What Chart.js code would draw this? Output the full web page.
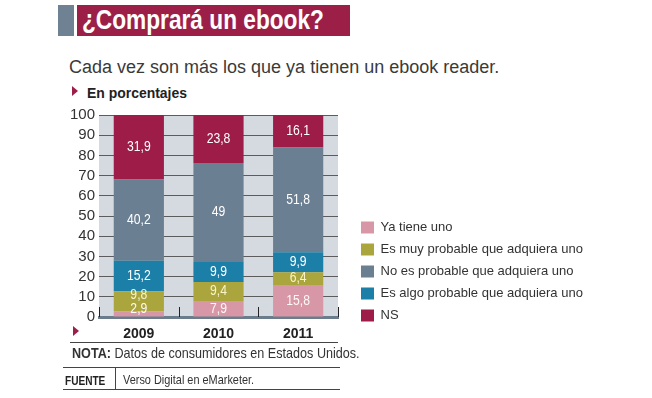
<!DOCTYPE html>
<html>
<head>
<meta charset="utf-8">
<script src="https://cdn.jsdelivr.net/npm/chart.js@4"></script>
<style>
  body { margin: 0; background: #fff; width: 652px; height: 398px; position: relative; overflow: hidden;
         font-family: "Liberation Sans", Arial, sans-serif; color: #333; }
  .abs { position: absolute; }
  .cond { transform: scaleX(0.84); transform-origin: 0 0; white-space: nowrap; }
  #titleGray { left: 58px; top: 5px; width: 16px; height: 31px; background: #6e8293; }
  #titleBar { left: 77px; top: 5px; width: 273px; height: 31px; background: #9c1f48; }
  #title { left: 82px; top: 5px; color: #fff; font-weight: bold; font-size: 27px; line-height: 31px; }
  #subtitle { left: 69px; top: 57px; font-size: 18px; white-space: nowrap; color: #3a3a3a; }
  .tri { width: 0; height: 0; border-top: 5px solid transparent; border-bottom: 5px solid transparent; border-left: 6px solid #9c1f48; }
  #unit { left: 87px; top: 84px; font-weight: bold; font-size: 15px; color: #222; transform: scaleX(0.93); }
  #chart { left: 55px; top: 100px; }
  .hline { height: 1px; background: #444; }
  #nota { left: 72px; top: 344px; font-size: 15px; }
  #fuente { left: 65px; top: 374px; font-size: 12px; font-weight: bold; color: #222; }
  #fuenteTxt { left: 123px; top: 372px; font-size: 13px; }
  #vdiv { left: 115px; top: 367px; width: 1px; height: 22px; background: #444; }
</style>
</head>
<body>
<div class="abs" id="titleGray"></div>
<div class="abs" id="titleBar"></div>
<div class="abs cond" id="title">¿Comprará un ebook?</div>
<div class="abs" id="subtitle">Cada vez son más los que ya tienen un ebook reader.</div>
<div class="abs tri" style="left:72px; top:86px;"></div>
<div class="abs cond" id="unit">En porcentajes</div>
<canvas class="abs" id="chart" width="560" height="250"></canvas>
<div class="abs tri" style="left:73px; top:326px;"></div>
<div class="abs hline" style="left:70px; top:342px; width:268px;"></div>
<div class="abs cond" id="nota"><b>NOTA:</b> Datos de consumidores en Estados Unidos.</div>
<div class="abs hline" style="left:63px; top:367px; width:277px;"></div>
<div class="abs cond" id="fuente">FUENTE</div>
<div class="abs" id="vdiv"></div>
<div class="abs cond" id="fuenteTxt">Verso Digital en eMarketer.</div>
<div class="abs hline" style="left:63px; top:389px; width:277px;"></div>

<script>
// data (percentages), bottom to top in each bar
var years = ["2009", "2010", "2011"];
var yaTiene = [2.9, 7.9, 15.8];
var muyProbable = [9.8, 9.4, 6.4];
var algoProbable = [15.2, 9.9, 9.9];
var noProbable = [40.2, 49, 51.8];
var ns = [31.9, 23.8, 16.1];
var yTicks = [0, 10, 20, 30, 40, 50, 60, 70, 80, 90, 100];

var fam = '"Liberation Sans", Arial, sans-serif';

// legend order differs from stacking order
var legendOrder = [0, 1, 3, 2, 4];

function ds(label, data, color, txtColor) {
    return {
        label: label,
        data: data,
        backgroundColor: color,
        borderWidth: 0,
        categoryPercentage: 0.63,
        barPercentage: 1,
        txtColor: txtColor
    };
}

// plot background
var plotBg = {
    id: "plotBg",
    beforeDraw: function(chart) {
        var a = chart.chartArea;
        var ctx = chart.ctx;
        ctx.save();
        ctx.fillStyle = "#d5dae1";
        ctx.fillRect(a.left, a.top, a.right - a.left, a.bottom - a.top);
        ctx.restore();
    }
};

// move legend next to the bottom of the plot, like the original
var legendShift = {
    id: "legendShift",
    afterLayout: function(chart) {
        var l = chart.legend;
        l.left += 14; l.right += 220;
        l.top -= 19; l.bottom -= 19;
        l.width = l.right - l.left;
    }
};

// value labels + small category ticks sticking up from the baseline
var barLabels = {
    id: "barLabels",
    afterDatasetsDraw: function(chart) {
        var ctx = chart.ctx;
        var x = chart.scales.x;
        var base = chart.chartArea.bottom;
        ctx.save();
        ctx.strokeStyle = "#222";
        ctx.lineWidth = 1;
        for (var i = 0; i <= years.length; i++) {
            var px = Math.round(x.getPixelForValue(i - 0.5)) + 0.5;
            ctx.beginPath();
            ctx.moveTo(px, base);
            ctx.lineTo(px, base - 10);
            ctx.stroke();
        }
        ctx.font = "14px " + fam;
        ctx.textAlign = "center";
        ctx.textBaseline = "middle";
        var lastY = [];
        chart.data.datasets.forEach(function(d, di) {
            var meta = chart.getDatasetMeta(di);
            meta.data.forEach(function(bar, j) {
                var cy = (bar.y + bar.base) / 2;
                cy = Math.min(cy, base - 8);
                if (lastY[j] !== undefined) cy = Math.min(cy, lastY[j] - 14);
                lastY[j] = cy;
                ctx.save();
                ctx.translate(bar.x, cy);
                ctx.scale(0.87, 1);
                ctx.fillStyle = d.txtColor;
                ctx.fillText(String(d.data[j]).replace(".", ","), 0, 0);
                ctx.restore();
            });
        });
        ctx.restore();
    }
};

new Chart(document.getElementById("chart"), {
    type: "bar",
    data: {
        labels: years,
        datasets: [
            ds("Ya tiene uno", yaTiene, "#d897a6", "#fff8f4"),
            ds("Es muy probable que adquiera uno", muyProbable, "#aaa63d", "#f8f4c8"),
            ds("Es algo probable que adquiera uno", algoProbable, "#1b7fa8", "#ffffff"),
            ds("No es probable que adquiera uno", noProbable, "#6b7f92", "#ffffff"),
            ds("NS", ns, "#9e1c48", "#ffffff")
        ]
    },
    options: {
        responsive: false,
        animation: false,
        devicePixelRatio: 1,
        layout: { padding: { top: 15, right: 157, left: 0, bottom: 0 } },
        scales: {
            x: {
                stacked: true,
                grid: { display: false },
                border: { display: true, color: "#6b7c8d", width: 3 },
                ticks: { color: "#222", padding: 1, font: { family: fam, size: 14, weight: "bold" } },
                afterFit: function(s) { s.height = 33; }
            },
            y: {
                stacked: true,
                min: 0,
                max: 100,
                afterBuildTicks: function(s) { s.ticks = yTicks.map(function(v) { return { value: v }; }); },
                grid: { color: "#5c5c5c", lineWidth: 1, drawTicks: false },
                border: { display: false },
                ticks: { color: "#333", padding: 4, autoSkip: false, font: { family: fam, size: 15 } },
                afterFit: function(s) { s.width = 44; }
            }
        },
        plugins: {
            legend: {
                position: "right",
                align: "end",
                maxWidth: 120,
                labels: {
                    boxWidth: 13,
                    boxHeight: 12,
                    padding: 9,
                    color: "#333",
                    font: { family: fam, size: 13 },
                    sort: function(a, b) {
                        return legendOrder.indexOf(a.datasetIndex) - legendOrder.indexOf(b.datasetIndex);
                    }
                }
            },
            tooltip: { enabled: false }
        }
    },
    plugins: [plotBg, legendShift, barLabels]
});
</script>
</body>
</html>
